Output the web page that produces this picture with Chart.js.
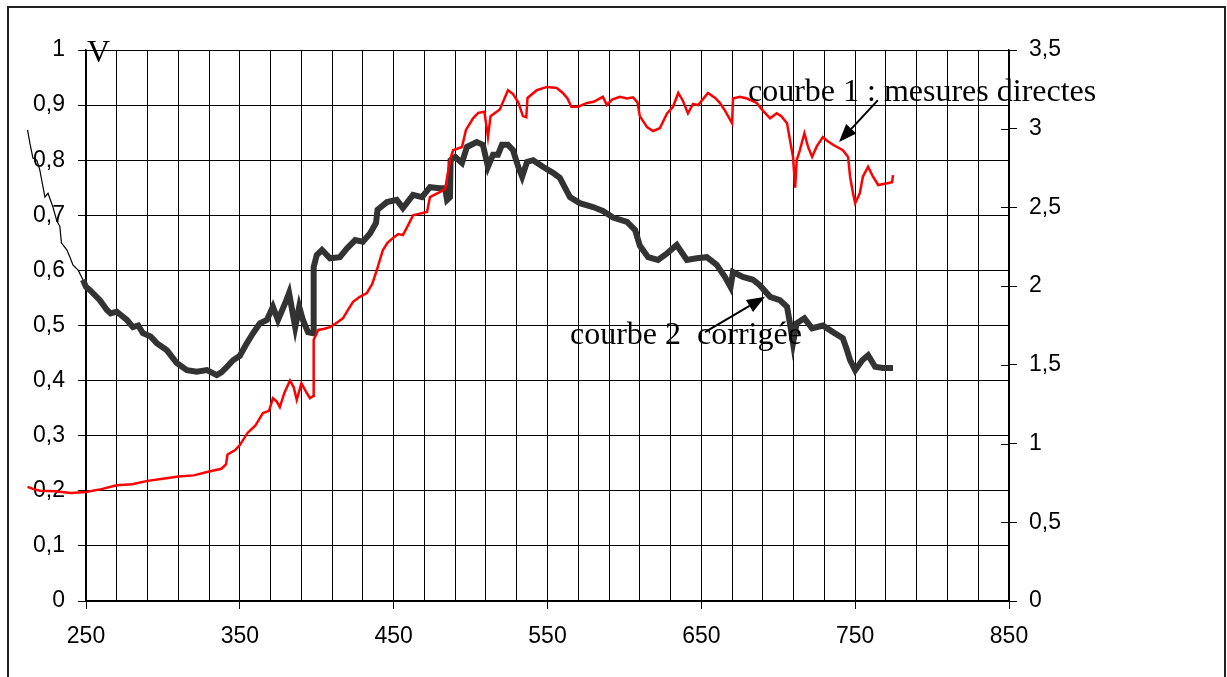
<!DOCTYPE html>
<html>
<head>
<meta charset="utf-8">
<script src="https://cdn.jsdelivr.net/npm/chart.js@4/dist/chart.umd.min.js"></script>
<style>
  html, body { margin: 0; padding: 0; background: #fff; }
  body { width: 1227px; height: 677px; position: relative; overflow: hidden; }
  #frame { position: absolute; left: 7px; top: 6px; width: 1219px; height: 700px;
           border: 2px solid #222; box-sizing: border-box; }
  #c { position: absolute; left: 0; top: 0; }
</style>
</head>
<body>
<div id="frame"></div>
<canvas id="c" width="1227" height="677"></canvas>
<script>
// Longueurs d'onde (nm) et tensions (V) – courbe 1 : mesures directes
const redNm = [212, 216, 220, 230, 240, 250, 260, 270, 280, 290, 300, 310, 320, 330, 338, 341, 342, 347, 350, 355,
  360, 365, 369, 371.5, 374, 376, 379, 382.6, 385, 387, 390, 393, 395.6, 397.6, 398, 401, 405, 408.6, 413, 417,
  420, 423.6, 428, 432.6, 436, 439, 443, 446, 449.6, 453, 456, 459, 462.6, 467, 471.7, 473.6, 477, 480, 483.5, 486.6,
  488.6, 494.4, 497, 501.6, 505, 509, 511.3, 513, 519, 524.3, 527.6, 531, 534, 536.2, 537, 543, 549.7, 556, 560, 563,
  565.5, 570, 575.7, 580, 586, 588.6, 592, 597, 601.7, 605.6, 608.5, 610, 614.7, 618.6, 623, 627.7, 631.6, 635, 638, 641.3,
  644.6, 648, 654.3, 659, 662, 665.4, 670, 670.6, 675, 679.7, 686, 690, 694.7, 699, 702, 705.7, 707.6, 709.6, 711, 712,
  714, 717, 719.4, 722, 725, 729, 732, 735.6, 742, 745.4, 746.7, 748.6, 750, 753, 755, 758.4, 761.6, 765, 770.7, 774, 774.6];
const redV = [0.207, 0.203, 0.200, 0.199, 0.196, 0.198, 0.203, 0.210, 0.212, 0.218, 0.222, 0.226, 0.228, 0.235, 0.240, 0.248, 0.266, 0.274, 0.283, 0.305,
  0.318, 0.341, 0.345, 0.368, 0.362, 0.352, 0.378, 0.400, 0.388, 0.365, 0.395, 0.380, 0.368, 0.372, 0.474, 0.492, 0.494, 0.497, 0.505, 0.513,
  0.527, 0.543, 0.552, 0.559, 0.575, 0.600, 0.637, 0.650, 0.659, 0.666, 0.664, 0.680, 0.700, 0.703, 0.706, 0.733, 0.738, 0.742, 0.748, 0.800,
  0.818, 0.824, 0.855, 0.876, 0.886, 0.888, 0.842, 0.880, 0.892, 0.927, 0.920, 0.905, 0.880, 0.878, 0.913, 0.927, 0.933, 0.931, 0.922, 0.912,
  0.897, 0.897, 0.904, 0.906, 0.915, 0.900, 0.910, 0.915, 0.912, 0.914, 0.905, 0.880, 0.860, 0.853, 0.858, 0.885, 0.897, 0.922, 0.908, 0.885,
  0.902, 0.900, 0.922, 0.913, 0.904, 0.890, 0.867, 0.912, 0.915, 0.912, 0.904, 0.890, 0.876, 0.885, 0.880, 0.867, 0.837, 0.806, 0.750, 0.800,
  0.818, 0.849, 0.824, 0.806, 0.825, 0.842, 0.835, 0.828, 0.818, 0.806, 0.770, 0.740, 0.722, 0.740, 0.770, 0.788, 0.770, 0.755, 0.758, 0.760, 0.773];

// courbe 2 : corrigée
const blackNm = [212, 213.6, 215.5, 218, 220, 222, 223.3, 225.3, 228.5, 231, 233, 234, 237.6, 239.6, 241.5, 245, 248, 250, 252.6, 259,
  263.6, 266, 270, 276.6, 280.5, 284, 287, 292, 296, 302.6, 309, 315.6, 322, 328.6, 335, 338, 341.6, 345.6, 350, 354.6,
  358.6, 363, 367.6, 371.5, 374.8, 379.4, 382, 386, 388.6, 391, 394.3, 397.6, 398, 400, 403.4, 408.6, 415, 419.7, 425, 430,
  434.6, 438.5, 439.5, 445.6, 452, 456, 462.6, 468.4, 473.6, 480, 483.4, 484.7, 486.6, 487, 490, 494.4, 497.6, 504, 508, 511.3,
  514.6, 517.8, 520.4, 524.3, 527.6, 531, 533.5, 536.7, 540.6, 547, 553.6, 558, 564.6, 571, 579.6, 586, 592.6, 601.7, 607, 610,
  615.4, 621.8, 627.7, 634, 640.6, 647, 653.6, 660, 665.4, 669, 670.6, 677, 683.6, 688, 694.7, 701, 705.7, 707.6, 709.6, 712,
  717, 722, 729, 735.6, 742, 744.7, 746.7, 750, 754.6, 758.4, 763, 768, 774.6];
const blackV = [0.855, 0.830, 0.804, 0.800, 0.782, 0.752, 0.733, 0.740, 0.715, 0.690, 0.680, 0.650, 0.637, 0.624, 0.610, 0.600, 0.583, 0.570, 0.564, 0.546,
  0.528, 0.522, 0.525, 0.510, 0.497, 0.500, 0.486, 0.480, 0.468, 0.455, 0.432, 0.419, 0.416, 0.419, 0.410, 0.415, 0.425, 0.437, 0.445, 0.468,
  0.486, 0.504, 0.510, 0.534, 0.510, 0.540, 0.559, 0.497, 0.534, 0.510, 0.488, 0.486, 0.606, 0.628, 0.637, 0.622, 0.624, 0.640, 0.655, 0.652,
  0.667, 0.686, 0.710, 0.724, 0.728, 0.713, 0.737, 0.733, 0.751, 0.749, 0.749, 0.728, 0.733, 0.800, 0.806, 0.795, 0.824, 0.833, 0.828, 0.788,
  0.810, 0.810, 0.828, 0.828, 0.818, 0.788, 0.770, 0.797, 0.800, 0.788, 0.777, 0.768, 0.733, 0.722, 0.715, 0.708, 0.696, 0.688, 0.673, 0.645,
  0.624, 0.619, 0.631, 0.646, 0.619, 0.622, 0.624, 0.610, 0.588, 0.570, 0.597, 0.588, 0.583, 0.573, 0.552, 0.546, 0.534, 0.504, 0.468, 0.504,
  0.513, 0.495, 0.500, 0.488, 0.477, 0.455, 0.437, 0.419, 0.437, 0.446, 0.425, 0.423, 0.423];

// Graduations
const xRange = [250, 850];
const xGridNm = [250, 270, 290, 310, 330, 350, 370, 390, 410, 430, 450, 470, 490, 510, 530, 550, 570, 590, 610, 630,
  650, 670, 690, 710, 730, 750, 770, 790, 810, 830, 850];
const xLabelNm = [250, 350, 450, 550, 650, 750, 850];
const yLeftTicks = [0, 0.1, 0.2, 0.3, 0.4, 0.5, 0.6, 0.7, 0.8, 0.9, 1];
const yRightTicks = [0, 0.5, 1, 1.5, 2, 2.5, 3, 3.5];

// Portion de la courbe 2 tracée en trait fin
const thinBelowNm = 248;

const zip = (xs, ys) => xs.map((x, i) => ({ x: x, y: ys[i] }));
const comma = v => (Math.round(v * 100) / 100).toString().replace('.', ',');

const tickFont = { family: "'Liberation Sans', Arial, sans-serif", size: 23 };
const serif = "32px 'Liberation Serif', 'Times New Roman', serif";

// Textes et flèches, placés en coordonnées des axes (nm, V)
const notes = [
  { text: 'courbe 1 : mesures directes', at: [680.3, 0.907], from: [764.8, 0.909], to: [739.5, 0.833] },
  { text: 'courbe 2  corrigée', at: [564.6, 0.466], from: [652.4, 0.488], to: [691.4, 0.552] }
];
const unitLabel = { text: 'V', at: [250.7, 0.978] };

const annotate = {
  id: 'annotate',
  afterDraw(chart) {
    const { ctx, scales } = chart;
    const sx = scales.x, sy = scales.y, sr = scales.y2;
    ctx.save();
    // petites marques intérieures de l'axe de droite
    ctx.strokeStyle = '#000';
    ctx.lineWidth = 1;
    sr.ticks.forEach(t => {
      const py = Math.round(sr.getPixelForValue(t.value)) + 0.5;
      ctx.beginPath();
      ctx.moveTo(sr.left - 8, py);
      ctx.lineTo(sr.left, py);
      ctx.stroke();
    });
    ctx.fillStyle = '#000';
    ctx.font = serif;
    ctx.textBaseline = 'alphabetic';
    ctx.textAlign = 'left';
    ctx.fillText(unitLabel.text, sx.getPixelForValue(unitLabel.at[0]), sy.getPixelForValue(unitLabel.at[1]));
    notes.forEach(n => {
      ctx.fillText(n.text, sx.getPixelForValue(n.at[0]), sy.getPixelForValue(n.at[1]));
      const x0 = sx.getPixelForValue(n.from[0]), y0 = sy.getPixelForValue(n.from[1]);
      const x1 = sx.getPixelForValue(n.to[0]), y1 = sy.getPixelForValue(n.to[1]);
      const a = Math.atan2(y1 - y0, x1 - x0);
      const len = 18, half = 7;
      const bx = x1 - len * Math.cos(a), by = y1 - len * Math.sin(a);
      ctx.lineWidth = 2;
      ctx.beginPath();
      ctx.moveTo(x0, y0);
      ctx.lineTo(bx, by);
      ctx.stroke();
      ctx.beginPath();
      ctx.moveTo(x1, y1);
      ctx.lineTo(bx + half * Math.sin(a), by - half * Math.cos(a));
      ctx.lineTo(bx - half * Math.sin(a), by + half * Math.cos(a));
      ctx.closePath();
      ctx.fill();
    });
    ctx.restore();
  }
};

new Chart(document.getElementById('c'), {
  type: 'line',
  data: {
    datasets: [
      {
        label: 'courbe 1 : mesures directes',
        data: zip(redNm, redV),
        yAxisID: 'y',
        borderColor: '#ff0000',
        borderWidth: 2.5,
        pointRadius: 0,
        tension: 0,
        clip: false,
        order: 0
      },
      {
        label: 'courbe 2 corrigée',
        data: zip(blackNm, blackV),
        yAxisID: 'y',
        borderColor: '#333333',
        borderWidth: 6,
        borderJoinStyle: 'miter',
        pointRadius: 0,
        tension: 0,
        clip: false,
        order: 1,
        segment: {
          borderWidth: c => c.p1.parsed.x <= thinBelowNm ? 1.2 : 6,
          borderColor: c => c.p1.parsed.x <= thinBelowNm ? '#000000' : '#333333'
        }
      }
    ]
  },
  options: {
    responsive: false,
    animation: false,
    events: [],
    layout: { padding: { top: 50, left: 0, right: 0, bottom: 0 } },
    plugins: { legend: { display: false }, tooltip: { enabled: false } },
    scales: {
      x: {
        type: 'linear',
        bounds: 'data',
        // bornes fixées après lecture des données : les mesures avant 250 nm restent tracées
        afterDataLimits: s => { s.min = xRange[0]; s.max = xRange[1]; },
        afterBuildTicks: s => { s.ticks = xGridNm.map(v => ({ value: v })); },
        afterFit: s => { s.height = 76; },
        ticks: {
          autoSkip: false,
          maxRotation: 0,
          padding: 14,
          color: '#000',
          font: tickFont,
          callback: v => xLabelNm.includes(v) ? String(v) : ''
        },
        grid: {
          color: '#000',
          lineWidth: 1,
          tickLength: 8,
          tickColor: c => (c.tick && xLabelNm.includes(c.tick.value)) ? '#000' : 'rgba(0,0,0,0)'
        },
        border: { color: '#000', width: 2 }
      },
      y: {
        position: 'left',
        min: 0,
        max: 1,
        afterBuildTicks: s => { s.ticks = yLeftTicks.map(v => ({ value: v })); },
        afterFit: s => { s.width = 86; },
        ticks: { padding: 13, color: '#000', font: tickFont, callback: v => comma(v) },
        grid: { color: '#000', lineWidth: 1, tickLength: 8 },
        border: { color: '#000', width: 1.5 }
      },
      y2: {
        position: 'right',
        min: 0,
        max: 3.5,
        afterBuildTicks: s => { s.ticks = yRightTicks.map(v => ({ value: v })); },
        afterFit: s => { s.width = 218; },
        ticks: { padding: 12, color: '#000', font: tickFont, callback: v => comma(v) },
        grid: { drawOnChartArea: false, color: '#000', lineWidth: 1, tickLength: 8 },
        border: { color: '#000', width: 1.5 }
      }
    }
  },
  plugins: [annotate]
});
</script>
</body>
</html>
